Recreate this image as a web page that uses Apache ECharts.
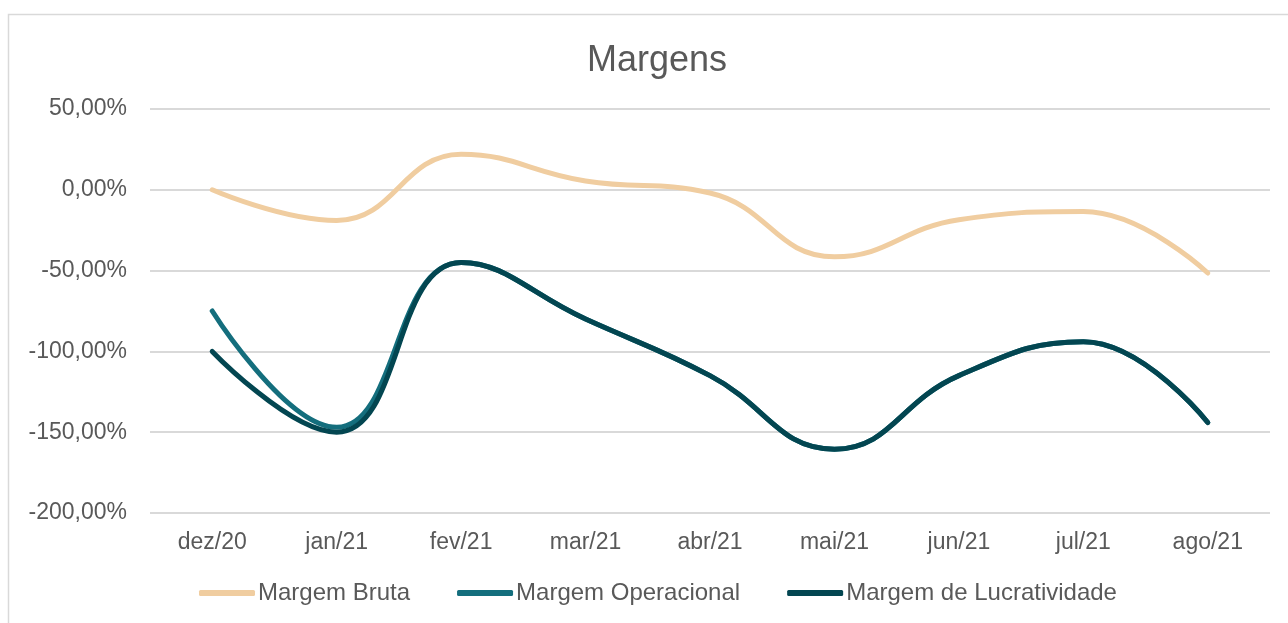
<!DOCTYPE html>
<html>
<head>
<meta charset="utf-8">
<script src="https://cdn.jsdelivr.net/npm/echarts@6/dist/echarts.min.js"></script>
<style>
  html, body { margin: 0; padding: 0; background: #fff; }
  #main { width: 1288px; height: 623px; }
</style>
</head>
<body>
<div id="main"></div>
<script>
  var months = ['dez/20', 'jan/21', 'fev/21', 'mar/21', 'abr/21', 'mai/21', 'jun/21', 'jul/21', 'ago/21'];
  var margemBruta = [0, -19, 22, 5.5, -2, -41.5, -18.5, -13.5, -51.5];
  var margemOperacional = [-75, -147, -45, -80, -115, -160.5, -115, -94, -144];
  var margemLucratividade = [-100, -150, -45, -80, -115, -160.5, -115, -94, -144];
  var yMin = -200, yMax = 50, yStep = 50;

  var txt = '#595959';
  var fontFam = '"Liberation Sans", Arial, sans-serif';

  function pct(v) {
    return v.toFixed(2).replace('.', ',') + '%';
  }

  var chart = echarts.init(document.getElementById('main'));
  chart.setOption({
    backgroundColor: '#fff',
    animation: false,
    textStyle: { fontFamily: fontFam },
    graphic: [{
      type: 'rect',
      shape: { x: 8.5, y: 14.5, width: 1300, height: 700 },
      style: { fill: 'none', stroke: '#d9d9d9', lineWidth: 1.5 },
      silent: true
    }],
    title: {
      text: 'Margens',
      left: 582,
      top: 38,
      textStyle: { fontFamily: fontFam, fontSize: 36, fontWeight: 'normal', color: txt }
    },
    legend: {
      bottom: 13,
      left: 194,
      itemWidth: 56,
      itemHeight: 6,
      itemGap: 47,
      icon: 'roundRect',
      textStyle: { fontFamily: fontFam, fontSize: 24, color: txt, padding: [0, 0, 0, -2] },
      data: ['Margem Bruta', 'Margem Operacional', 'Margem de Lucratividade']
    },
    grid: { left: 150, right: 18, top: 109, bottom: 110, containLabel: false },
    xAxis: {
      type: 'category',
      data: months,
      boundaryGap: true,
      axisLine: { show: false },
      axisTick: { show: false },
      axisLabel: { color: txt, fontSize: 23, margin: 18, fontFamily: fontFam }
    },
    yAxis: {
      type: 'value',
      min: yMin,
      max: yMax,
      interval: yStep,
      axisLine: { show: false },
      axisTick: { show: false },
      axisLabel: { color: txt, fontSize: 23, margin: 23, fontFamily: fontFam, formatter: pct },
      splitLine: { lineStyle: { color: '#d9d9d9', width: 2 } }
    },
    series: [
      {
        name: 'Margem Bruta',
        type: 'line',
        smooth: 0.45,
        showSymbol: false,
        data: margemBruta,
        itemStyle: { color: '#f0cda0' },
        lineStyle: { color: '#f0cda0', width: 5, cap: 'round' }
      },
      {
        name: 'Margem Operacional',
        type: 'line',
        smooth: 0.45,
        showSymbol: false,
        data: margemOperacional,
        itemStyle: { color: '#146e7d' },
        lineStyle: { color: '#146e7d', width: 5, cap: 'round' }
      },
      {
        name: 'Margem de Lucratividade',
        type: 'line',
        smooth: 0.45,
        showSymbol: false,
        data: margemLucratividade,
        itemStyle: { color: '#034651' },
        lineStyle: { color: '#034651', width: 5, cap: 'round' }
      }
    ]
  });
</script>
</body>
</html>
